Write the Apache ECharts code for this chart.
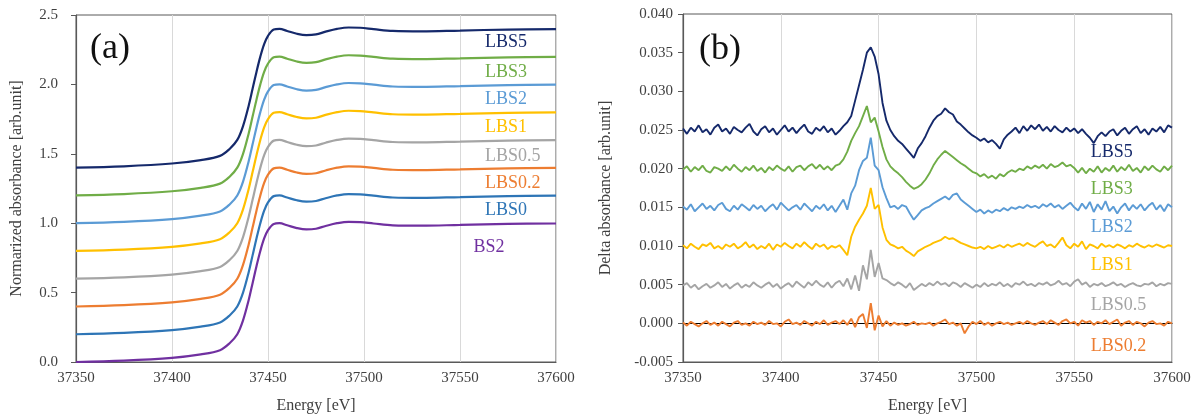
<!DOCTYPE html>
<html>
<head>
<meta charset="utf-8">
<script src="https://cdn.jsdelivr.net/npm/echarts@6/dist/echarts.min.js"></script>
<style>
  html, body { margin: 0; padding: 0; background: #fff; }
  #chart { width: 1200px; height: 419px; }
</style>
</head>
<body>
<div id="chart"></div>
<script>
// ---- panel (a): normalized absorbance ----
const energyA = [37350, 37375, 37400, 37415, 37425, 37430, 37434, 37437, 37440, 37442,
  37444, 37446, 37448, 37450, 37453, 37456, 37460, 37465, 37470, 37475,
  37480, 37486, 37492, 37498, 37505, 37515, 37530, 37550, 37575, 37600]

const absBS2 = [0.000, 0.010, 0.030, 0.055, 0.085, 0.135, 0.200, 0.300, 0.450, 0.570,
  0.690, 0.800, 0.890, 0.950, 0.995, 1.000, 0.985, 0.965, 0.955, 0.960,
  0.980, 1.000, 1.010, 1.008, 0.998, 0.985, 0.982, 0.988, 0.995, 0.998]
const absLBS0 = [0.200, 0.210, 0.230, 0.255, 0.285, 0.335, 0.400, 0.500, 0.650, 0.770,
  0.890, 1.000, 1.090, 1.150, 1.195, 1.200, 1.185, 1.165, 1.155, 1.160,
  1.180, 1.200, 1.210, 1.208, 1.198, 1.185, 1.182, 1.188, 1.195, 1.198]
const absLBS02 = [0.400, 0.410, 0.430, 0.455, 0.485, 0.535, 0.600, 0.700, 0.850, 0.970,
  1.090, 1.200, 1.290, 1.350, 1.395, 1.400, 1.385, 1.365, 1.355, 1.360,
  1.380, 1.400, 1.410, 1.408, 1.398, 1.385, 1.382, 1.388, 1.395, 1.398]
const absLBS05 = [0.600, 0.610, 0.630, 0.655, 0.685, 0.735, 0.800, 0.900, 1.050, 1.170,
  1.290, 1.400, 1.490, 1.550, 1.595, 1.600, 1.585, 1.565, 1.555, 1.560,
  1.580, 1.600, 1.610, 1.608, 1.598, 1.585, 1.582, 1.588, 1.595, 1.598]
const absLBS1 = [0.800, 0.810, 0.830, 0.855, 0.885, 0.935, 1.000, 1.100, 1.250, 1.370,
  1.490, 1.600, 1.690, 1.750, 1.795, 1.800, 1.785, 1.765, 1.755, 1.760,
  1.780, 1.800, 1.810, 1.808, 1.798, 1.785, 1.782, 1.788, 1.795, 1.798]
const absLBS2 = [1.000, 1.010, 1.030, 1.055, 1.085, 1.135, 1.200, 1.300, 1.450, 1.570,
  1.690, 1.800, 1.890, 1.950, 1.995, 2.000, 1.985, 1.965, 1.955, 1.960,
  1.980, 2.000, 2.010, 2.008, 1.998, 1.985, 1.982, 1.988, 1.995, 1.998]
const absLBS3 = [1.200, 1.210, 1.230, 1.255, 1.285, 1.335, 1.400, 1.500, 1.650, 1.770,
  1.890, 2.000, 2.090, 2.150, 2.195, 2.200, 2.185, 2.165, 2.155, 2.160,
  2.180, 2.200, 2.210, 2.208, 2.198, 2.185, 2.182, 2.188, 2.195, 2.198]
const absLBS5 = [1.400, 1.410, 1.430, 1.455, 1.485, 1.535, 1.600, 1.700, 1.850, 1.970,
  2.090, 2.200, 2.290, 2.350, 2.395, 2.400, 2.385, 2.365, 2.355, 2.360,
  2.380, 2.400, 2.410, 2.408, 2.398, 2.385, 2.382, 2.388, 2.395, 2.398]

// ---- panel (b): delta absorbance, values in units of 1e-4 ----
const energyB = [
  37350, 37352, 37354, 37356, 37358, 37360, 37362, 37364, 37366, 37368,
  37370, 37372, 37374, 37376, 37378, 37380, 37382, 37384, 37386, 37388,
  37390, 37392, 37394, 37396, 37398, 37400, 37402, 37404, 37406, 37408,
  37410, 37412, 37414, 37416, 37418, 37420, 37422, 37424, 37426, 37428,
  37430, 37432, 37434, 37436, 37438, 37440, 37442, 37444, 37446, 37448,
  37450, 37452, 37454, 37456, 37458, 37460, 37462, 37464, 37466, 37468,
  37470, 37472, 37474, 37476, 37478, 37480, 37482, 37484, 37486, 37488,
  37490, 37492, 37494, 37496, 37498, 37500, 37502, 37504, 37506, 37508,
  37510, 37512, 37514, 37516, 37518, 37520, 37522, 37524, 37526, 37528,
  37530, 37532, 37534, 37536, 37538, 37540, 37542, 37544, 37546, 37548,
  37550, 37552, 37554, 37556, 37558, 37560, 37562, 37564, 37566, 37568,
  37570, 37572, 37574, 37576, 37578, 37580, 37582, 37584, 37586, 37588,
  37590, 37592, 37594, 37596, 37598, 37600]

const dLBS5 = [
  252, 245, 253, 248, 256, 247, 251, 244, 253, 257,
  248, 252, 245, 254, 250, 247, 253, 258, 248, 243,
  251, 255, 247, 252, 244, 250, 256, 248, 253, 246,
  252, 257, 248, 245, 253, 249, 255, 247, 252, 244,
  249, 255, 260, 268, 288, 308, 328, 350, 357, 345,
  322, 285, 262, 250, 242, 236, 232, 226, 220, 214,
  226, 233, 242, 253, 262, 268, 271, 278, 273, 270,
  261, 257, 252, 247, 243, 240, 236, 239, 234, 237,
  232, 226, 238, 244, 248, 253, 246, 255, 249, 256,
  251, 257, 249, 254, 248, 255, 250, 247, 253, 248,
  252, 246, 251, 245, 240, 233, 242, 247, 242, 248,
  251, 243, 249, 253, 245, 251, 255, 246, 251, 244,
  252, 248, 254, 247, 256, 253]
const dLBS3 = [
  199, 203, 196, 202, 198, 204, 197, 195, 202, 200,
  197, 203, 198, 205, 200, 196, 202, 198, 204, 197,
  201, 195, 202, 198, 204, 200, 197, 203, 196, 202,
  204, 198, 203, 206, 200, 205, 199, 203, 198, 204,
  206, 212, 222, 236, 246, 255, 268, 281, 260, 266,
  248, 228, 212, 203, 198, 194, 189, 183, 178, 174,
  176, 180, 186, 194, 204, 212, 218, 223, 219, 215,
  211, 207, 204, 200, 196, 194, 190, 193, 188, 191,
  187, 193, 190, 195, 198, 196, 200, 198, 203, 200,
  204, 201, 205, 200, 206, 202, 204, 208, 203, 205,
  201, 195, 201, 194, 200, 196, 203, 195, 201, 197,
  204, 196, 202, 198, 205, 197, 201, 195, 203, 198,
  204, 199, 196, 203, 198, 204]
const dLBS2 = [
  151, 147, 154, 145, 150, 155, 148, 152, 146, 153,
  156, 148, 145, 152, 147, 154, 150, 146, 153, 148,
  152, 145, 150, 154, 147, 156, 151, 146, 150, 153,
  147, 155, 150, 145, 152, 148, 154, 146, 152, 144,
  152, 160, 147, 168, 178, 198, 210, 214, 240, 204,
  198, 176, 162, 150, 152, 148, 153, 151, 142, 134,
  140, 146, 149, 151, 155, 158, 161, 164, 160, 166,
  168, 160, 156, 152, 148, 144, 147, 142, 146, 143,
  147, 145, 149, 146, 150, 148, 151, 149, 153, 150,
  152, 149, 154, 151, 155, 150, 153, 148, 152, 156,
  150, 146, 155, 148, 157, 144, 154, 147, 158, 145,
  151, 142, 150, 155, 146, 153, 148, 154, 146, 152,
  156, 147, 153, 145, 154, 150]
const dLBS1 = [
  101, 97, 103, 99, 96, 102, 100, 104, 97, 100,
  96, 102, 99, 103, 97, 100, 105, 98, 102, 96,
  100, 97, 103, 95, 102, 99, 104, 100, 97, 103,
  99, 105, 100, 96, 103, 99, 102, 96, 100, 98,
  101, 95, 88, 112, 125, 134, 142, 152, 175, 148,
  153, 124, 108, 102, 100, 97, 99, 94, 91, 87,
  93, 96, 99, 101, 104, 106, 108, 112, 109, 110,
  107, 104, 102, 100, 98, 97, 99, 96, 100, 97,
  99, 101, 98, 102, 99, 101, 103, 100, 104, 101,
  99, 103, 106, 100, 102, 98, 104, 111, 101, 97,
  103, 99, 106, 96, 102, 100, 97, 103, 99, 101,
  98, 102, 100, 97, 101, 99, 103, 100, 98, 101,
  99, 102, 100, 98, 101, 100]
const dLBS05 = [
  49, 52, 46, 50, 44, 48, 51, 46, 49, 53,
  47, 51, 45, 49, 52, 46, 50, 47, 53, 49,
  46, 50, 53, 47, 51, 45, 49, 52, 47, 54,
  50, 46, 53, 49, 55, 50, 47, 53, 46, 52,
  55, 48, 58, 44, 62, 42, 75, 57, 95, 60,
  78, 58, 56, 52, 49, 53, 50, 46, 52, 43,
  47, 51, 48, 52, 49, 54, 50, 52, 48, 53,
  51, 47, 52, 49, 46, 50, 47, 52, 48, 51,
  49, 53, 48, 51, 47, 52, 50, 54, 49, 51,
  48, 52, 50, 53, 49, 51, 55, 50, 52, 48,
  54, 57, 50, 53, 47, 51, 49, 52, 48, 50,
  53, 49, 51, 47, 50, 52, 49, 48, 51, 50,
  53, 48, 51, 49, 52, 51]
const dLBS02 = [
  1, -3, 2, -1, -4, 0, 3, -2, 1, -3,
  2, -1, -4, 1, 3, -2, 0, -3, 2, -1,
  1, -2, 3, -1, 0, -4, 2, 5, -1, 1,
  -2, 3, 0, -3, 2, -1, 4, -2, 1, 3,
  -1, 4, -2, 6, -5, 8, 12, -6, 26, -9,
  10, -4, 3, -3, 1, -2, 0, -3, -1, 2,
  -2, 0, -1, 1, -3, 0, 2, 5, -1, 1,
  -3, 0, -13, -4, 2, -1, 3, -2, 1, -3,
  0, 2, -1, 1, -2, 0, 2, -1, 3, 0,
  -2, 1, 3, -1, 4, 1, -2, 3, 5, 0,
  2, -3, 4, 1, 3, -2, 2, 0, 4, -1,
  2, 5, -3, 1, 3, -2, 2, 0, -4, 1,
  3, -1, 0, -3, 2, 0]

// label anchors (data coords)
const labelEA = [37563, 37563, 37563, 37563, 37563, 37563, 37563, 37557]
const labelYA = [2.30, 2.09, 1.89, 1.69, 1.48, 1.29, 1.09, 0.83]
const labelEB = 37558.5
const labelYB = [0.0221, 0.0174, 0.0124, 0.0075, 0.0023, -0.0030]

const FONT = '"Liberation Serif", "Times New Roman", serif'
const TXT = '#404040'
const AXIS = '#595959'

const seriesA = [
  { name: 'LBS5', data: absLBS5, color: '#15296b' },
  { name: 'LBS3', data: absLBS3, color: '#70ad47' },
  { name: 'LBS2', data: absLBS2, color: '#5b9bd5' },
  { name: 'LBS1', data: absLBS1, color: '#ffc000' },
  { name: 'LBS0.5', data: absLBS05, color: '#a5a5a5' },
  { name: 'LBS0.2', data: absLBS02, color: '#ed7d31' },
  { name: 'LBS0', data: absLBS0, color: '#2e75b6' },
  { name: 'BS2', data: absBS2, color: '#7030a0' }
]
const seriesB = [
  { name: 'LBS5', data: dLBS5, color: '#15296b' },
  { name: 'LBS3', data: dLBS3, color: '#70ad47' },
  { name: 'LBS2', data: dLBS2, color: '#5b9bd5' },
  { name: 'LBS1', data: dLBS1, color: '#ffc000' },
  { name: 'LBS0.5', data: dLBS05, color: '#a5a5a5' },
  { name: 'LBS0.2', data: dLBS02, color: '#ed7d31' }
]

function labelPoint(name, coord, color) {
  return {
    symbol: 'circle',
    symbolSize: 0,
    silent: true,
    label: {
      show: true,
      position: 'right',
      distance: 0,
      formatter: name,
      color: color,
      fontFamily: FONT,
      fontSize: 18
    },
    data: [{ coord: coord }]
  }
}

function xAxisCfg(grid) {
  return {
    type: 'value',
    gridIndex: grid,
    min: 37350,
    max: 37600,
    interval: 50,
    name: 'Energy [eV]',
    nameLocation: 'middle',
    nameGap: 36,
    nameTextStyle: { fontFamily: FONT, fontSize: 16, color: TXT },
    axisLine: { onZero: false, lineStyle: { color: AXIS, width: 1.2 } },
    axisTick: { show: false },
    axisLabel: { fontFamily: FONT, fontSize: 15, color: TXT, margin: 9, formatter: v => String(v) },
    splitLine: { show: true, lineStyle: { color: '#d9d9d9', width: 1 } }
  }
}

const series = []
seriesA.forEach((s, i) => {
  series.push({
    type: 'line',
    name: s.name,
    xAxisIndex: 0,
    yAxisIndex: 0,
    data: energyA.map((e, k) => [e, s.data[k]]),
    smooth: 0.35,
    showSymbol: false,
    lineStyle: { color: s.color, width: 2.2 },
    itemStyle: { color: s.color },
    z: 10 - i,
    markPoint: labelPoint(s.name, [labelEA[i], labelYA[i]], s.color)
  })
})
seriesB.forEach((s, i) => {
  series.push({
    type: 'line',
    name: s.name + ' (b)',
    xAxisIndex: 1,
    yAxisIndex: 1,
    data: energyB.map((e, k) => [e, s.data[k] / 10000]),
    showSymbol: false,
    lineStyle: { color: s.color, width: 1.9 },
    itemStyle: { color: s.color },
    z: 10 - i,
    markPoint: labelPoint(s.name, [labelEB, labelYB[i]], s.color)
  })
})

const chart = echarts.init(document.getElementById('chart'))
chart.setOption({
  animation: false,
  backgroundColor: '#fff',
  grid: [
    { left: 76, top: 15, width: 480, height: 347, show: true, borderColor: AXIS, borderWidth: 1, backgroundColor: 'transparent' },
    { left: 683, top: 14, width: 489, height: 350, show: true, borderColor: AXIS, borderWidth: 1, backgroundColor: 'transparent' }
  ],
  xAxis: [
    xAxisCfg(0),
    xAxisCfg(1),
    {
      // horizontal zero line of panel (b)
      type: 'value',
      gridIndex: 1,
      position: 'top',
      min: 37350,
      max: 37600,
      axisLine: { show: true, onZero: true, onZeroAxisIndex: 1, lineStyle: { color: '#000', width: 1 } },
      axisTick: { show: false },
      axisLabel: { show: false },
      splitLine: { show: false }
    }
  ],
  yAxis: [
    {
      type: 'value',
      gridIndex: 0,
      min: 0,
      max: 2.5,
      interval: 0.5,
      name: 'Normarized absorbance [arb.unit]',
      nameLocation: 'middle',
      nameGap: 51,
      nameTextStyle: { fontFamily: FONT, fontSize: 16, color: TXT },
      axisLine: { show: true, lineStyle: { color: AXIS, width: 1.2 } },
      axisTick: { show: true, inside: false, length: 5, lineStyle: { color: AXIS } },
      axisLabel: { fontFamily: FONT, fontSize: 15, color: TXT, margin: 18, formatter: v => v.toFixed(1) },
      splitLine: { show: false }
    },
    {
      type: 'value',
      gridIndex: 1,
      min: -0.005,
      max: 0.04,
      interval: 0.005,
      name: 'Delta absorbance [arb.unit]',
      nameLocation: 'middle',
      nameGap: 69,
      nameTextStyle: { fontFamily: FONT, fontSize: 16, color: TXT },
      axisLine: { show: true, lineStyle: { color: AXIS, width: 1.2 } },
      axisTick: { show: true, inside: false, length: 5, lineStyle: { color: AXIS } },
      axisLabel: { fontFamily: FONT, fontSize: 15, color: TXT, margin: 10, formatter: v => v.toFixed(3) },
      splitLine: { show: false }
    }
  ],
  graphic: [
    { type: 'text', x: 90, y: 49, style: { text: '(a)', font: '36px ' + FONT, fill: '#111', verticalAlign: 'middle' } },
    { type: 'text', x: 699, y: 50, style: { text: '(b)', font: '36px ' + FONT, fill: '#111', verticalAlign: 'middle' } }
  ],
  series: series
})
</script>
</body>
</html>
